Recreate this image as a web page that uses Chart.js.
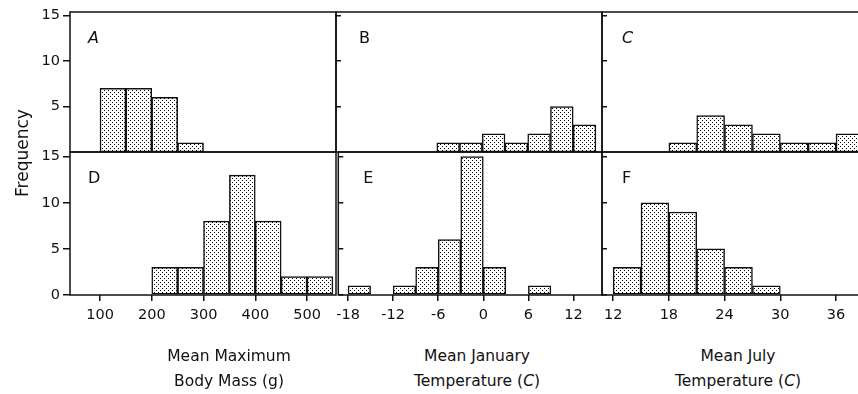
<!DOCTYPE html>
<html>
<head>
<meta charset="utf-8">
<script src="https://cdn.jsdelivr.net/npm/chart.js@4.4.0/dist/chart.umd.min.js"></script>
<style>
    html, body { margin: 0; padding: 0; background: #fff; overflow: hidden; }
    #wrap { position: relative; width: 858px; height: 394px; overflow: hidden; font-family: "DejaVu Sans", sans-serif; color: #111; }
    #wrap canvas { position: absolute; }
    .ttl { position: absolute; width: 220px; font-size: 15.5px; line-height: 25px; text-align: center; white-space: nowrap; }
    #freq { position: absolute; left: -38px; top: 143px; width: 120px; height: 20px; line-height: 20px; font-size: 17px; text-align: center; transform: rotate(-90deg); }
</style>
</head>
<body>
<div id="wrap">
    <canvas id="pA"></canvas>
    <canvas id="pB"></canvas>
    <canvas id="pC"></canvas>
    <canvas id="pD"></canvas>
    <canvas id="pE"></canvas>
    <canvas id="pF"></canvas>
    <div id="freq">Frequency</div>
    <div class="ttl" style="left:119px; top:344px;">Mean Maximum<br>Body Mass (g)</div>
    <div class="ttl" style="left:367px; top:344px;">Mean January<br>Temperature (<i>C</i>)</div>
    <div class="ttl" style="left:628px; top:344px;">Mean July<br>Temperature (<i>C</i>)</div>
</div>
<script>
// lower edge of each bin and the counts
const massBins = [100, 150, 200, 250, 300, 350, 400, 450, 500];
const massA = [7, 7, 6, 1, 0, 0, 0, 0, 0];
const massD = [0, 0, 3, 3, 8, 13, 8, 2, 2];
const massTicks = [100, 200, 300, 400, 500];

const janBins = [-18, -15, -12, -9, -6, -3, 0, 3, 6, 9, 12];
const janB = [0, 0, 0, 0, 1, 1, 2, 1, 2, 5, 3];
const janE = [1, 0, 1, 3, 6, 15, 3, 0, 1, 0, 0];
const janTicks = [-18, -12, -6, 0, 6, 12];

const julBins = [12, 15, 18, 21, 24, 27, 30, 33, 36];
const julC = [0, 0, 1, 4, 3, 2, 1, 1, 2];
const julF = [3, 10, 9, 5, 3, 1, 0, 0, 0];
const julTicks = [12, 18, 24, 30, 36];

const freqTicksTop = [5, 10, 15];
const freqTicksLow = [0, 5, 10, 15];

Chart.defaults.font.family = '"DejaVu Sans", sans-serif';
Chart.defaults.color = '#111';

// stipple fill like the printed figure
const dots = (function () {
    const c = document.createElement('canvas');
    c.width = 4; c.height = 4;
    const g = c.getContext('2d');
    g.fillStyle = '#fff';
    g.fillRect(0, 0, 4, 4);
    g.fillStyle = '#000';
    [[0, 0], [2, 2]].forEach(p => g.fillRect(p[0], p[1], 1, 1));
    return g.createPattern(c, 'repeat');
})();

const frame = {
    id: 'frame',
    afterDraw(chart) {
        const { ctx, chartArea: a } = chart;
        ctx.save();
        ctx.strokeStyle = '#111';
        ctx.lineWidth = 1.5;
        ctx.strokeRect(a.left, a.top, a.right - a.left, a.bottom - a.top);
        ctx.restore();
    }
};

const panelLetter = {
    id: 'panelLetter',
    afterDraw(chart, args, opts) {
        const { ctx, chartArea: a } = chart;
        ctx.save();
        ctx.font = (opts.italic ? 'italic ' : '') + '16px "DejaVu Sans"';
        ctx.fillStyle = '#111';
        ctx.fillText(opts.text, a.left + opts.dx, a.top + 31);
        ctx.restore();
    }
};

function histogram(p) {
    const left = p.col0 ? 70 : 6;
    const top = 14;
    const bottom = p.low ? 40 : 14;
    const canvas = document.getElementById(p.id);
    canvas.width = p.area[2] - p.area[0] + left + 6;
    canvas.height = p.area[3] - p.area[1] + top + bottom;
    canvas.style.left = (p.area[0] - left) + 'px';
    canvas.style.top = (p.area[1] - top) + 'px';

    new Chart(canvas, {
        type: 'bar',
        data: {
            datasets: [{
                data: p.bins.map((b, i) => ({ x: b + p.width / 2, y: p.counts[i] })).filter(d => d.y > 0),
                backgroundColor: dots,
                borderColor: '#111',
                borderWidth: 1.5,
                borderSkipped: false,
                barPercentage: 1,
                categoryPercentage: 1
            }]
        },
        options: {
            responsive: false,
            animation: false,
            devicePixelRatio: 1,
            layout: { padding: { left: p.col0 ? 0 : 6, top: top, right: 6, bottom: p.low ? 0 : bottom } },
            scales: {
                x: {
                    type: 'linear',
                    min: p.xRange[0],
                    max: p.xRange[1],
                    offset: false,
                    display: p.low,
                    afterBuildTicks: s => { s.ticks = p.xTicks.map(v => ({ value: v })); },
                    afterFit: s => { if (p.low) s.height = 40; },
                    border: { display: false },
                    grid: { drawOnChartArea: false, offset: false, tickLength: 6, color: '#111', lineWidth: 1.5 },
                    ticks: { font: { size: 14.5 }, color: '#111', padding: 6, maxRotation: 0, autoSkip: false }
                },
                y: {
                    min: 0,
                    max: p.yMax,
                    afterBuildTicks: s => { s.ticks = p.yTicks.map(v => ({ value: v })); },
                    afterFit: s => { s.width = p.col0 ? 70 : 0; },
                    border: { display: false },
                    grid: { drawOnChartArea: false, tickLength: p.col0 ? 7 : -5, color: '#111', lineWidth: 1.5 },
                    ticks: { display: p.col0, font: { size: 14.5 }, color: '#111', padding: 3 }
                }
            },
            plugins: {
                legend: { display: false },
                tooltip: { enabled: false },
                panelLetter: { text: p.letter, italic: p.italic, dx: p.dx }
            }
        },
        plugins: [frame, panelLetter]
    });
}

histogram({ id: 'pA', area: [70, 12, 336, 152], col0: true, low: false, bins: massBins, width: 50, counts: massA,
    xRange: [42, 556], xTicks: massTicks, yMax: 15.4, yTicks: freqTicksTop, letter: 'A', italic: true, dx: 18 });
histogram({ id: 'pB', area: [336, 12, 602, 152], col0: false, low: false, bins: janBins, width: 3, counts: janB,
    xRange: [-19.3, 15.8], xTicks: janTicks, yMax: 15.4, yTicks: freqTicksTop, letter: 'B', italic: false, dx: 23 });
histogram({ id: 'pC', area: [602, 12, 882, 152], col0: false, low: false, bins: julBins, width: 3, counts: julC,
    xRange: [10.8, 40.95], xTicks: julTicks, yMax: 15.4, yTicks: freqTicksTop, letter: 'C', italic: true, dx: 20 });
histogram({ id: 'pD', area: [70, 152, 336, 295], col0: true, low: true, bins: massBins, width: 50, counts: massD,
    xRange: [42, 556], xTicks: massTicks, yMax: 15.5, yTicks: freqTicksLow, letter: 'D', italic: false, dx: 18 });
histogram({ id: 'pE', area: [336, 152, 602, 295], col0: false, low: true, bins: janBins, width: 3, counts: janE,
    xRange: [-19.3, 15.8], xTicks: janTicks, yMax: 15.5, yTicks: freqTicksLow, letter: 'E', italic: false, dx: 25 });
histogram({ id: 'pF', area: [602, 152, 882, 295], col0: false, low: true, bins: julBins, width: 3, counts: julF,
    xRange: [10.8, 40.95], xTicks: julTicks, yMax: 15.5, yTicks: freqTicksLow, letter: 'F', italic: false, dx: 20 });
</script>
</body>
</html>
